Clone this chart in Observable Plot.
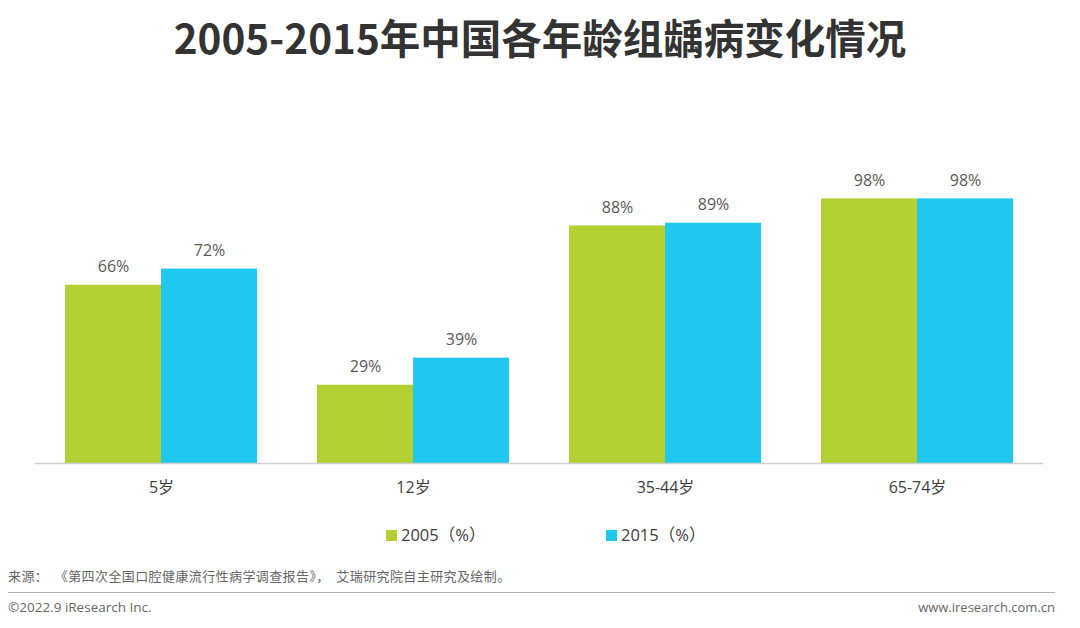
<!DOCTYPE html>
<html><head><meta charset="utf-8">
<script src="https://cdn.jsdelivr.net/npm/d3@7"></script>
<script src="https://cdn.jsdelivr.net/npm/@observablehq/plot@0.6"></script>
<style>
html,body{margin:0;padding:0;background:#fff;width:1080px;height:628px;overflow:hidden;position:relative;font-family:"Open Sans","Noto Sans CJK SC",sans-serif;}
#title{position:absolute;top:10px;left:0;width:1080px;text-align:center;font-family:"Noto Sans CJK SC",sans-serif;font-weight:700;font-size:40.5px;line-height:54px;color:#333;}
#chart{position:absolute;top:100px;left:0;}
#legend{position:absolute;top:523px;left:0;width:1080px;height:24px;font-size:16.5px;color:#404040;}
.li{position:absolute;top:0;line-height:24px;white-space:nowrap;}
.sw{display:inline-block;width:11px;height:11px;margin-right:4px;vertical-align:-0px;}
#source{position:absolute;top:566px;left:8px;font-size:13px;letter-spacing:0.4px;color:#666;font-family:"Noto Sans CJK SC",sans-serif;white-space:pre;}
#hr{position:absolute;top:592px;left:8px;width:1047px;height:0;border-top:1.5px solid #b0b0b0;}
#copy{position:absolute;top:598px;left:8px;font-size:13.5px;color:#666;}
#url{position:absolute;top:598px;right:25px;font-size:13px;color:#666;}
</style></head>
<body>
<div id="title">2005-2015年中国各年龄组龋病变化情况</div>
<div id="chart"></div>
<div id="legend">
  <div class="li" style="left:386px"><span class="sw" style="background:#b3d133"></span>2005（%）</div>
  <div class="li" style="left:606px"><span class="sw" style="background:#20c8f0"></span>2015（%）</div>
</div>
<div id="source">来源：  《第四次全国口腔健康流行性病学调查报告》，  艾瑞研究院自主研究及绘制。</div>
<div id="hr"></div>
<div id="copy">©2022.9 iResearch Inc.</div>
<div id="url">www.iresearch.com.cn</div>
<script>
const groups = ["5岁", "12岁", "35-44岁", "65-74岁"];
const years = ["2005", "2015"];
const values2005 = [66, 29, 88, 98];
const values2015 = [72, 39, 89, 98];
const colors = ["#b3d133", "#20c8f0"];

const data = [];
groups.forEach((g, i) => {
  data.push({group: g, year: years[0], value: values2005[i]});
  data.push({group: g, year: years[1], value: values2015[i]});
});

const chart = Plot.plot({
  width: 1080,
  height: 410,
  marginTop: 93,
  marginBottom: 47,
  marginLeft: 35,
  marginRight: 37,
  style: {fontFamily: '"Open Sans","Noto Sans CJK SC",sans-serif', fontSize: "16px", color: "#404040", background: "transparent"},
  fx: {domain: groups, padding: 0, axis: "bottom", label: null, tickSize: 0, tickPadding: 18},
  x: {domain: years, axis: null, paddingInner: 0, paddingOuter: 0.3},
  y: {domain: [0, 100], axis: null},
  color: {domain: years, range: colors},
  marks: [
    Plot.barY(data, {fx: "group", x: "year", y: "value", fill: "year"}),
    Plot.ruleY([0], {stroke: "#cfcfcf", strokeWidth: 1.5}),
    Plot.text(data, {fx: "group", x: "year", y: "value", text: d => d.value + "%", dy: -18, fill: "#595959", fontSize: 16})
  ]
});
document.getElementById("chart").appendChild(chart);
</script>
</body></html>
